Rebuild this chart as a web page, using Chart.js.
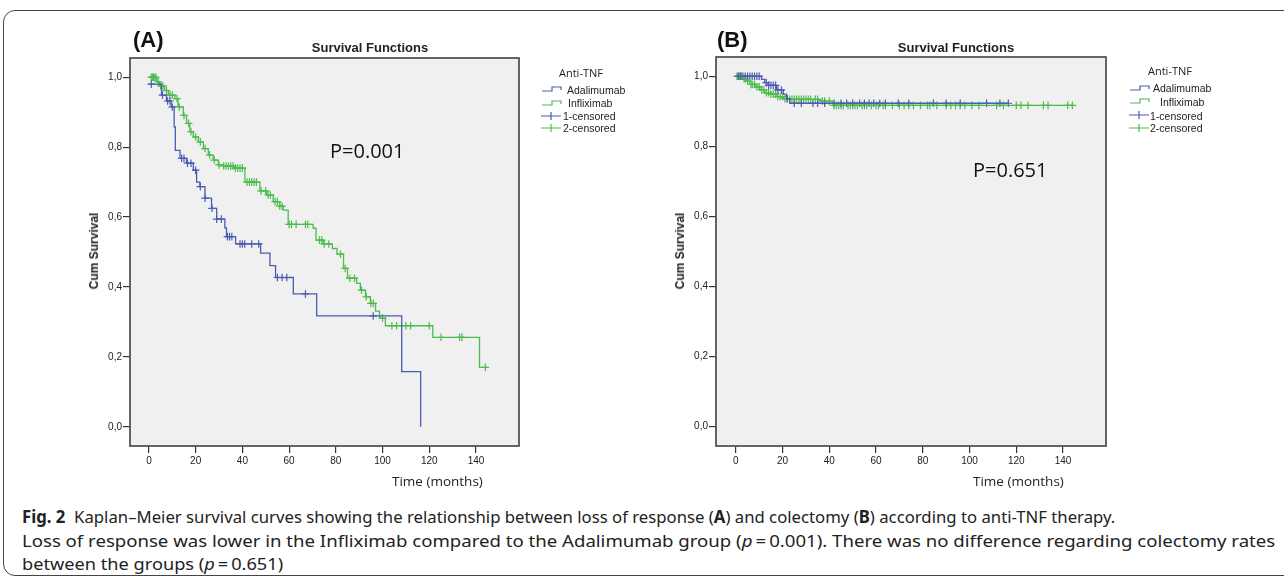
<!DOCTYPE html>
<html lang="en">
<head>
  <meta charset="UTF-8">
  <title>Fig. 2 Kaplan–Meier survival curves</title>
  <script src="https://cdn.jsdelivr.net/npm/chart.js"></script>
  <style>
    * { box-sizing: border-box; }
    body { margin: 0; background: #fff; width: 1284px; height: 581px; overflow: hidden; position: relative; font-family: 'Liberation Sans', Arial, sans-serif; color: #222; }
    .frame { position: absolute; left: 3px; top: 10px; width: 1300px; height: 566px; border: 1px solid #444; border-radius: 12px; }
    canvas { position: absolute; }
    .t { position: absolute; white-space: nowrap; line-height: 1; transform: translateY(-50%); }
    .tag { font-size: 22px; font-weight: bold; color: #111; }
    .ttl { font-size: 13px; font-weight: bold; transform: translate(-50%, -50%); }
    .pv { font-family: 'Open Sans', sans-serif; font-size: 20px; color: #111; }
    .xt { font-family: 'Open Sans', sans-serif; font-size: 13.5px; }
    .yt { font-size: 12px; font-weight: bold; transform: translate(-50%, -50%) rotate(-90deg); }
    .lt { font-family: 'Open Sans', sans-serif; font-size: 11px; }
    .li { font-size: 10.5px; }
    .cap { position: absolute; left: 22px; font-family: 'Noto Sans', sans-serif; font-size: 17px; color: #222; white-space: nowrap; line-height: 1; transform-origin: left center; transform: translateY(-50%); }
  </style>
</head>
<body>
  <div class="frame"></div>

  <canvas id="chartA" width="600" height="470" style="left:60px; top:30px;"></canvas>
  <canvas id="chartB" width="636" height="470" style="left:646px; top:30px;"></canvas>

  <!-- panel A texts -->
  <div class="t tag" style="left:133px; top:40px;">(A)</div>
  <div class="t ttl" style="left:370px; top:47px;">Survival Functions</div>
  <div class="t pv" style="left:330px; top:151px;">P=0.001</div>
  <div class="t xt" style="left:392px; top:482px;">Time (months)</div>
  <div class="t yt" style="left:94px; top:251px;">Cum Survival</div>
  <div class="t lt" style="left:559px; top:72px;">Anti-TNF</div>
  <div class="t li" style="left:567px; top:90px;">Adalimumab</div>
  <div class="t li" style="left:568px; top:103px;">Infliximab</div>
  <div class="t li" style="left:563px; top:116px;">1-censored</div>
  <div class="t li" style="left:563px; top:128px;">2-censored</div>

  <!-- panel B texts -->
  <div class="t tag" style="left:717px; top:40px;">(B)</div>
  <div class="t ttl" style="left:956px; top:47px;">Survival Functions</div>
  <div class="t pv" style="left:973px; top:170px;">P=0.651</div>
  <div class="t xt" style="left:973px; top:482px;">Time (months)</div>
  <div class="t yt" style="left:680px; top:251px;">Cum Survival</div>
  <div class="t lt" style="left:1148px; top:70px;">Anti-TNF</div>
  <div class="t li" style="left:1153px; top:88px;">Adalimumab</div>
  <div class="t li" style="left:1160px; top:102px;">Infliximab</div>
  <div class="t li" style="left:1150px; top:116px;">1-censored</div>
  <div class="t li" style="left:1150px; top:128px;">2-censored</div>

  <!-- caption, each line squeezed to the width it has in the figure -->
  <div class="cap" data-w="1093" style="top:516px;"><b>Fig. 2</b>&nbsp; Kaplan–Meier survival curves showing the relationship between loss of response (<b>A</b>) and colectomy (<b>B</b>) according to anti-TNF therapy.</div>
  <div class="cap" data-w="1253" style="top:540px;">Loss of response was lower in the Infliximab compared to the Adalimumab group (<i>p</i>&#8201;=&#8201;0.001). There was no difference regarding colectomy rates</div>
  <div class="cap" data-w="261" style="top:563px;">between the groups (<i>p</i>&#8201;=&#8201;0.651)</div>

  <script>
    // axis ticks
    const xTicks = [0, 20, 40, 60, 80, 100, 120, 140];
    const yTicks = [0, 0.2, 0.4, 0.6, 0.8, 1.0];

    // (A) loss of response - step points (time, survival after the drop)
    const adaTimeA = [0, 5.4, 7.5, 9.5, 10.8, 11.3, 13.3, 16.1, 19.0, 20.4, 21.8, 24.0, 26.8, 29.0, 32.5, 33.2, 37.1, 47.8, 51.8, 54.2, 61.8, 71.8, 108.2, 116.3];
    const adaSurvA = [0.98, 0.949, 0.932, 0.915, 0.858, 0.791, 0.768, 0.754, 0.734, 0.70, 0.687, 0.654, 0.625, 0.594, 0.569, 0.544, 0.523, 0.497, 0.461, 0.427, 0.38, 0.317, 0.158, 0.0];
    const infTimeA = [0, 3.3, 4.6, 6.7, 8.3, 11.1, 12.5, 14.7, 16.1, 17.5, 19.0, 21.1, 23.3, 25.4, 27.5, 29.7, 31.8, 36.5, 41.1, 47.5, 50.4, 53.2, 56.0, 57.5, 59.6, 70.3, 71.5, 74.6, 78.5, 80.5, 83.3, 85.0, 88.9, 90.5, 92.7, 94.8, 97.0, 98.7, 101.2, 121.5, 141.5, 143.9];
    const infSurvA = [1.0, 0.987, 0.975, 0.962, 0.949, 0.939, 0.915, 0.891, 0.868, 0.844, 0.829, 0.815, 0.796, 0.777, 0.763, 0.749, 0.746, 0.74, 0.70, 0.675, 0.663, 0.644, 0.631, 0.62, 0.579, 0.568, 0.534, 0.523, 0.51, 0.494, 0.453, 0.425, 0.41, 0.391, 0.372, 0.353, 0.331, 0.311, 0.289, 0.256, 0.17, 0.17];
    const adaCensA = [1, 5.8, 8, 9, 10, 14, 15, 16.5, 18, 20, 22, 24, 27, 29, 31, 33.6, 34.5, 35.5, 39, 40, 41, 44, 47, 55, 57, 59, 67, 96];
    const infCensA = [1, 1.5, 2, 2.5, 3, 4, 5, 6, 7.5, 9, 10, 12, 13, 15, 17, 18, 20, 22, 24, 26, 28, 30, 32, 33, 34, 35, 36, 37, 38, 39, 40, 42, 43, 44, 45, 46, 48, 50, 51, 52, 54, 55, 56, 57, 60, 61, 63, 67, 68, 73, 74, 75, 77, 82, 84, 86, 88, 91, 93, 95, 96, 100, 104, 106, 110, 112, 120, 125, 133, 134, 144];

    // (B) colectomy
    const adaTimeB = [0, 11, 12.4, 13.8, 17.4, 20.3, 21.7, 23.1, 116.6];
    const adaSurvB = [1.0, 0.991, 0.982, 0.974, 0.961, 0.949, 0.936, 0.923, 0.923];
    const infTimeB = [0, 3.1, 4.6, 6, 8.2, 10.2, 12.4, 14.6, 17.4, 20.3, 23, 36, 41.6, 144.5];
    const infSurvB = [1.0, 0.993, 0.987, 0.977, 0.970, 0.961, 0.953, 0.949, 0.942, 0.936, 0.934, 0.929, 0.917, 0.917];
    const adaCensB = [1, 2, 3, 4, 5, 6, 7, 8, 9, 10, 13, 14, 15, 16, 17, 18, 19.5, 22, 25, 28, 33, 35, 38, 42, 45, 47.4, 50, 53, 55, 57, 59, 61.6, 64, 69.5, 74, 84.5, 90, 96, 107.3, 113, 116.6];
    const infCensB = [0.5, 1, 1.5, 2, 2.5, 3.5, 4, 5, 6.5, 7, 8, 9, 10, 11, 12, 13, 14, 15, 16, 17, 18, 19, 20, 21, 22, 23, 24, 25, 26, 27, 28, 29, 30, 31, 32, 34, 35, 37, 38, 40, 42, 43, 44, 45, 46, 48, 49, 50, 51, 52, 54, 55, 56, 58, 60, 61, 63, 64, 67, 70, 72, 74, 76, 79, 82, 83, 86, 90, 92, 94, 96, 98, 101, 104, 111.6, 114.5, 120, 122, 125, 131.6, 133.6, 142, 144];

    const BLUE = '#4a5cb0', GREEN = '#4cbc4c';

    function survAt(ts, ss, t) {
      let v = ss[0];
      for (let i = 0; i < ts.length; i++) if (ts[i] <= t) v = ss[i];
      return v;
    }
    const steps = (ts, ss) => ts.map((t, i) => ({ x: t, y: ss[i] }));
    const marks = (cs, ts, ss) => cs.map(t => ({ x: t, y: survAt(ts, ss, t) }));

    const panelPlugin = {
      id: 'panel',
      beforeDraw(chart) {
        const { ctx, chartArea: a } = chart;
        ctx.save(); ctx.fillStyle = '#f0f0f0'; ctx.fillRect(a.left, a.top, a.width, a.height); ctx.restore();
      },
      afterDraw(chart, args, opts) {
        const { ctx, chartArea: a } = chart;
        ctx.save();
        ctx.strokeStyle = '#555'; ctx.lineWidth = 1.8;
        ctx.strokeRect(a.left, a.top, a.width, a.height);
        // legend glyphs
        const x = opts.lx, r = opts.rows;
        ctx.lineWidth = 1.2;
        [[BLUE, r[0]], [GREEN, r[1]]].forEach(([c, y]) => {
          ctx.strokeStyle = c; ctx.beginPath();
          ctx.moveTo(x, y + 2); ctx.lineTo(x + 10, y + 2); ctx.lineTo(x + 10, y - 2);
          ctx.lineTo(x + 19, y - 2); ctx.lineTo(x + 19, y + 1); ctx.stroke();
        });
        [[BLUE, r[2]], [GREEN, r[3]]].forEach(([c, y]) => {
          ctx.strokeStyle = c; ctx.beginPath();
          ctx.moveTo(x - 1, y); ctx.lineTo(x + 19, y);
          ctx.moveTo(x + 9, y - 4); ctx.lineTo(x + 9, y + 4); ctx.stroke();
        });
        ctx.restore();
      }
    };

    function makeChart(id, d, xMin, pad, legend) {
      const lineDs = (data, c) => ({ data, borderColor: c, borderWidth: 1.3, stepped: true, pointRadius: 0, fill: false });
      const censDs = (data, c) => ({ data, showLine: false, pointStyle: 'cross', pointRadius: 3.8, pointBorderWidth: 1.2, pointBorderColor: c, borderColor: c });
      return new Chart(document.getElementById(id), {
        type: 'line',
        data: { datasets: [
          lineDs(steps(d.at, d.as), BLUE),
          lineDs(steps(d.it, d.is), GREEN),
          censDs(marks(d.ac, d.at, d.as), BLUE),
          censDs(marks(d.ic, d.it, d.is), GREEN)
        ] },
        options: {
          responsive: false, animation: false,
          layout: { padding: pad },
          plugins: { legend: { display: false }, tooltip: { enabled: false }, panel: legend },
          scales: {
            x: {
              type: 'linear', min: xMin, max: 158.4,
              afterBuildTicks: s => { s.ticks = xTicks.map(v => ({ value: v })); },
              afterFit: s => { s.height = 30; },
              grid: { drawOnChartArea: false, drawTicks: true, tickLength: 7, color: '#333', lineWidth: 1.2 },
              border: { display: false },
              ticks: { padding: 2, color: '#222', font: { family: 'Liberation Sans', size: 10 }, callback: v => String(v) }
            },
            y: {
              type: 'linear', min: -0.055, max: 1.055,
              afterBuildTicks: s => { s.ticks = yTicks.map(v => ({ value: v })); },
              afterFit: s => { s.width = 40; },
              grid: { drawOnChartArea: false, drawTicks: true, tickLength: 7, color: '#333', lineWidth: 1.2 },
              border: { display: false },
              ticks: { padding: 1, color: '#222', font: { family: 'Liberation Sans', size: 10 }, callback: v => v.toFixed(1).replace('.', ',') }
            }
          }
        },
        plugins: [panelPlugin]
      });
    }

    makeChart('chartA',
      { at: adaTimeA, as: adaSurvA, it: infTimeA, is: infSurvA, ac: adaCensA, ic: infCensA },
      -8.1, { left: 30, top: 28, right: 141, bottom: 24 },
      { lx: 542 - 60, rows: [89 - 30, 103 - 30, 116 - 30, 128 - 30] });

    makeChart('chartB',
      { at: adaTimeB, as: adaSurvB, it: infTimeB, is: infSurvB, ac: adaCensB, ic: infCensB },
      -8.5, { left: 30, top: 27, right: 176, bottom: 24 },
      { lx: 1130 - 646, rows: [88 - 30, 101 - 30, 115 - 30, 128 - 30] });

    // squeeze caption lines to their widths in the figure
    document.querySelectorAll('.cap').forEach(el => {
      const k = +el.dataset.w / el.scrollWidth;
      el.style.transform = `translateY(-50%) scaleX(${k})`;
    });
  </script>
</body>
</html>
